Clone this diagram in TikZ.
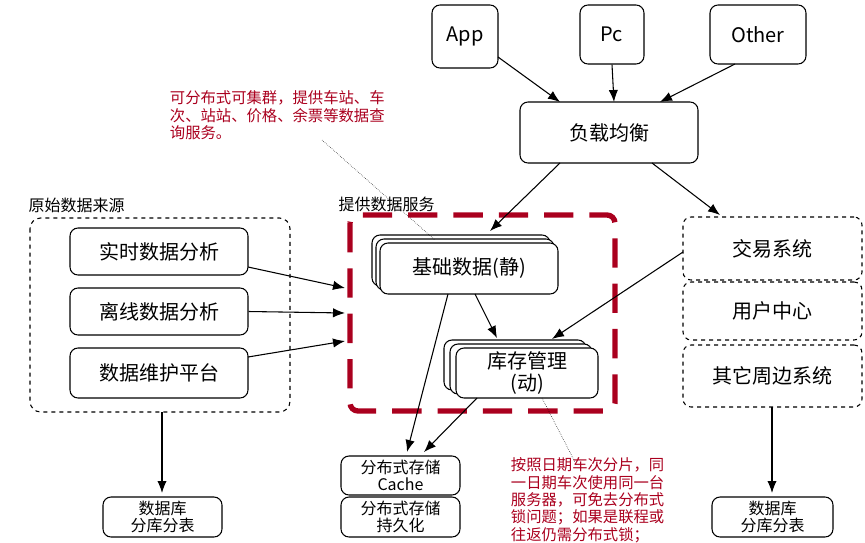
\documentclass[tikz,border=0pt]{standalone}
\usepackage{fontspec}
\setmainfont{Noto Sans CJK SC}
\usetikzlibrary{arrows.meta}
\definecolor{dred}{RGB}{170,0,30}
\begin{document}
\begin{tikzpicture}[x=0.75pt,y=-0.75pt,line width=0.8pt,
 box/.style={draw,rounded corners=6pt,fill=white,align=center,font=\fontsize{15}{16}\selectfont,inner sep=0pt},
 dbox/.style={box,dashed},
 sbox/.style={box,font=\fontsize{12}{12.5}\selectfont},
 arr/.style={-{Latex[length=9pt,width=7pt]}},
 note/.style={text=dred,align=left,font=\fontsize{11.5}{13}\selectfont,anchor=north west}]
\useasboundingbox (0,0) rectangle (865,543);
\newcommand\bx[6]{\node[#1,minimum width=#4*0.75pt-#2*0.75pt,minimum height=#5*0.75pt-#3*0.75pt] (#6) at ({(#2+#4)/2},{(#3+#5)/2})}
\bx{box}{432}{5}{498}{68}{app}{App};
\bx{box}{580}{5}{644}{64}{pc}{Pc};
\bx{box}{710}{5}{806}{64}{oth}{Other};
\bx{box}{520}{102}{698}{163}{lb}{负载均衡};
% red dashed
\draw[dred,line width=4pt,dash pattern=on 22pt off 12pt,rounded corners=6pt] (350,215) rectangle (615,411);
\node[anchor=south west,font=\fontsize{12}{12}\selectfont,inner sep=0] (tl) at (338,212) {提供数据服务};
% stacked
\bx{box}{372}{235}{550}{286}{b2}{};
\bx{box}{376}{239}{554}{290}{b1}{};
\bx{box}{380}{243}{558}{294}{base}{基础数据(静)};
\bx{box}{444}{340}{586}{390}{k2}{};
\bx{box}{450}{344}{592}{394}{k1}{};
\bx{box}{456}{348}{598}{398}{kc}{库存管理\\(动)};
% left group
\draw[dashed,rounded corners=8pt] (30,218) rectangle (290,412);
\node[anchor=south west,font=\fontsize{12}{12}\selectfont,inner sep=0] (ll) at (28,213) {原始数据来源};
\bx{box}{70}{228}{248}{275}{rt}{实时数据分析};
\bx{box}{70}{288}{248}{335}{off}{离线数据分析};
\bx{box}{70}{348}{248}{398}{mt}{数据维护平台};
\coordinate (s1) at (248,267);\coordinate (s3) at (248,357);
\coordinate (e1) at (345,288);\coordinate (e2) at (345,313);\coordinate (e3) at (345,341);
\draw[arr] (s1) -- (e1);
\draw[arr] (off.east) -- (e2);
\draw[arr] (s3) -- (e3);
% right
\bx{dbox}{683}{217}{862}{280}{jy}{交易系统};
\bx{dbox}{683}{282}{862}{340}{yh}{用户中心};
\bx{dbox}{683}{345}{862}{407}{qt}{其它周边系统};
% storage
\bx{sbox}{341}{456}{460}{495}{c1}{分布式存储\\Cache};
\bx{sbox}{341}{497}{460}{537}{c2}{分布式存储\\持久化};
\bx{sbox}{103}{497}{222}{537}{db1}{数据库\\分库分表};
\bx{sbox}{712}{497}{833}{537}{db2}{数据库\\分库分表};
% arrows
\draw[arr] (498,57) -- (560,102);
\draw[arr] (pc.south) -- (614,102);
\draw[arr] (735,64) -- (660,102);
\draw[arr] (560,163) -- (490,231);
\draw[arr] (652,163) -- (720,215);
\draw[arr] (683,252) -- (552,339);
\draw[arr] (448,294) -- (407,452);
\draw[arr] (475,294) -- (497,338);
\draw[arr] (477,398) -- (424,452);
\draw[arr] (162,412) -- (162,493);
\draw[arr] (772,407) -- (772,493);
% notes
\node[note] (n1) at (165,86) {可分布式可集群，提供车站、车\\次、站站、价格、余票等数据查\\询服务。};
\draw[densely dotted,thin] (322,140) -- (435,240);
\node[note] (n2) at (506,453) {按照日期车次分片，同\\一日期车次使用同一台\\服务器，可免去分布式\\锁问题；如果是联程或\\往返仍需分布式锁；};
\draw[densely dotted,thin] (542,398) -- (575,462);
\end{tikzpicture}
\end{document}
